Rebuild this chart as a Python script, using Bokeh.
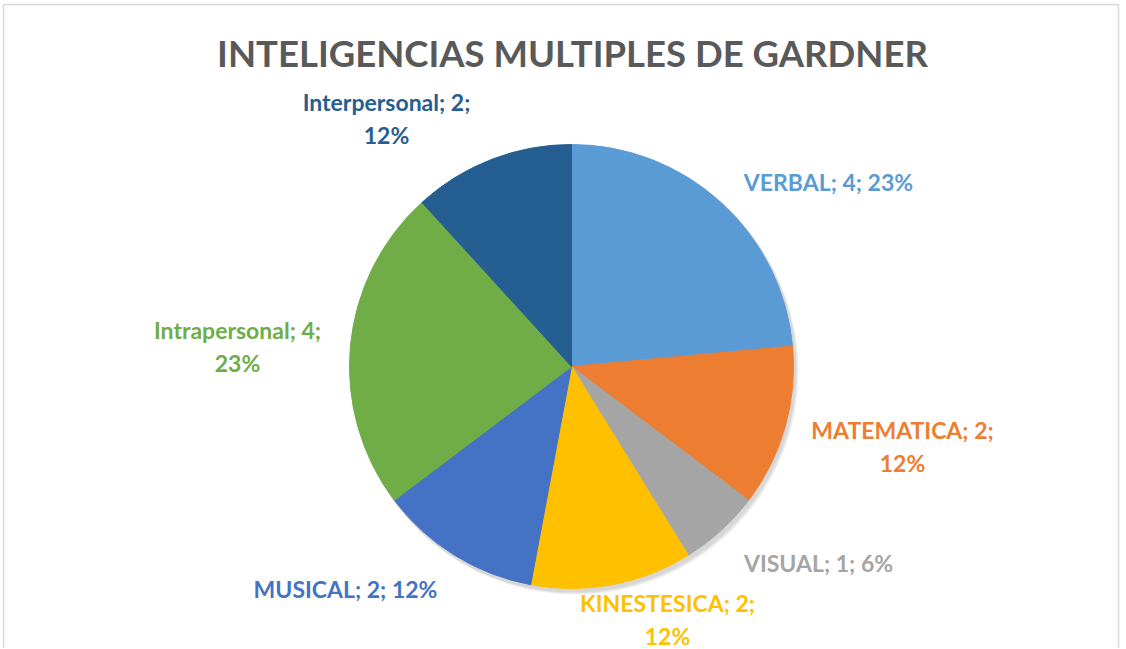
import math
from bokeh.plotting import figure
from bokeh.models import Range1d, ColumnDataSource
from bokeh.core.properties import value
from bokeh.embed import file_html
from bokeh.resources import INLINE

# ---- data ----
categories = ["VERBAL", "MATEMATICA", "VISUAL", "KINESTESICA", "MUSICAL", "Intrapersonal", "Interpersonal"]
values = [4, 2, 1, 2, 2, 4, 2]
percents = [23, 12, 6, 12, 12, 23, 12]
colors = ["#5B9BD5", "#ED7D31", "#A5A5A5", "#FFC000", "#4472C4", "#70AD47", "#255E91"]
title_text = "INTELIGENCIAS MULTIPLES DE GARDNER"

# ---- layout (page pixels) ----
W, H = 1122, 648
OX, OY = 0, 0
CX, CY, R = 571, 366, 222
# label block centres (page px) and whether the label wraps
label_pos = [(828, 181), (902, 446), (818, 562), (667, 619), (345, 588), (237, 346), (386, 118)]
label_wrap = [False, True, False, True, False, True, True]
FONT = "Lato"

def px(x):
    return x - OX

def py(y):
    return H - (y - OY)

p = figure(width=W, height=H, output_backend="svg", toolbar_location=None,
           x_range=Range1d(0, W), y_range=Range1d(0, H), min_border=0)
p.axis.visible = False
p.grid.visible = False
p.background_fill_color = "white"
p.border_fill_color = "white"
p.outline_line_color = None

# chart-area border
p.quad(left=[px(3)], right=[px(1118)], top=[py(4)], bottom=[py(660)], fill_color=None,
       line_color="#D9D9D9", line_width=1.5)

# shadow
for i, a in enumerate([0.05, 0.05, 0.06]):
    p.circle(x=[px(CX) + 2 + i], y=[py(CY) - 3 - i], radius=R + 1, fill_color="black",
             fill_alpha=a, line_color=None)

total = sum(values)
starts, ends = [], []
acc = 0
for v in values:
    starts.append(math.pi / 2 - acc / total * 2 * math.pi)
    acc += v
    ends.append(math.pi / 2 - acc / total * 2 * math.pi)

src = ColumnDataSource(dict(x=[px(CX)] * len(values), y=[py(CY)] * len(values),
                            start=starts, end=ends, color=colors))
p.wedge(x="x", y="y", radius=R, start_angle="start", end_angle="end", direction="clock",
        fill_color="color", line_color="color", line_width=1, source=src)

texts = []
for c, v, pc, w in zip(categories, values, percents, label_wrap):
    if w:
        texts.append(f"{c}; {v};\n{pc}%")
    else:
        texts.append(f"{c}; {v}; {pc}%")

lsrc = ColumnDataSource(dict(x=[px(a) for a, b in label_pos], y=[py(b) for a, b in label_pos],
                             text=texts, color=colors))
p.text(x="x", y="y", text="text", text_color="color", source=lsrc,
       text_font=value(FONT), text_font_style="bold", text_font_size="23px",
       text_align="center", text_baseline="middle", text_line_height=1.16)

p.text(x=[px(572)], y=[py(52)], text=[title_text], text_color="#595959",
       text_font=value(FONT), text_font_style="bold", text_font_size="36.5px",
       text_align="center", text_baseline="middle")

open("out.html", "w").write(file_html(p, INLINE))
